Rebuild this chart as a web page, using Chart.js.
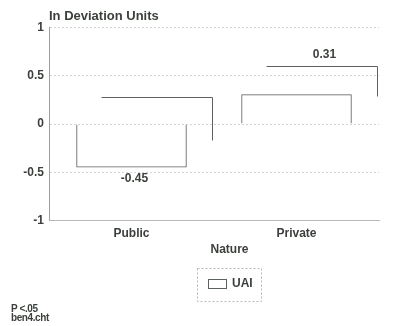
<!DOCTYPE html>
<html>
<head>
<meta charset="utf-8">
<script src="https://cdn.jsdelivr.net/npm/chart.js@4/dist/chart.umd.min.js"></script>
<style>
  html, body { margin: 0; padding: 0; background: #fff; }
  #wrap { position: relative; width: 405px; height: 326px; }
  #foot { position: absolute; left: 11px; top: 304px; font: bold 10px "Liberation Sans", Arial, sans-serif; color: #3b403b; line-height: 9px; letter-spacing: -0.4px; }
</style>
</head>
<body>
<div id="wrap">
  <canvas id="chart" width="405" height="326"></canvas>
  <div id="foot">P &lt;.05<br>ben4.cht</div>
</div>
<script>
const categories = ["Public", "Private"];
const uaiValues = [-0.45, 0.31];
const seriesName = "UAI";
const axisName = "Nature";
const yMin = -1;
const yMax = 1;
const yStep = 0.5;

const ink = "#3b403b";
const lineColor = "#5c625c";
const fontFamily = '"Liberation Sans", Arial, sans-serif';

// offset of the back face, for the old 3D look
const depthX = 25;
const depthY = -28;

const depthPlugin = {
    id: "depth",
    afterDatasetsDraw(chart) {
        const ctx = chart.ctx;
        const meta = chart.getDatasetMeta(0);
        ctx.save();
        ctx.strokeStyle = lineColor;
        ctx.lineWidth = 1;
        ctx.fillStyle = ink;
        ctx.font = "bold 12px " + fontFamily;
        ctx.textAlign = "center";
        ctx.textBaseline = "middle";
        meta.data.forEach((bar, i) => {
            const props = bar.getProps(["x", "y", "base", "width"], true);
            const left = props.x - props.width / 2 + depthX;
            const right = props.x + props.width / 2 + depthX;
            const top = Math.min(props.y, props.base) + depthY;
            const bottom = Math.max(props.y, props.base) + depthY;
            ctx.beginPath();
            ctx.moveTo(Math.round(left) + 0.5, Math.round(top) + 0.5);
            ctx.lineTo(Math.round(right) + 0.5, Math.round(top) + 0.5);
            ctx.lineTo(Math.round(right) + 0.5, Math.round(bottom) + 0.5);
            ctx.stroke();

            const value = uaiValues[i];
            if (value < 0) {
                ctx.fillText(value.toFixed(2), props.x + 3, props.y + 11);
            } else {
                ctx.fillText(value.toFixed(2), props.x + depthX + 3, top - 11);
            }
        });
        ctx.restore();
    },
    afterDraw(chart) {
        const ctx = chart.ctx;
        const area = chart.chartArea;
        ctx.save();
        ctx.fillStyle = ink;
        ctx.font = "bold 12px " + fontFamily;
        ctx.textBaseline = "middle";
        ctx.textAlign = "center";
        // axis name, centred under the floor including its depth
        ctx.fillText(axisName, (area.left + area.right + depthX) / 2 + 3, area.bottom + 29);

        // legend
        const lx = 197, ly = 268;
        ctx.strokeStyle = "#b5bab5";
        ctx.setLineDash([2, 2]);
        ctx.strokeRect(lx + 0.5, ly + 0.5, 64, 33);
        ctx.setLineDash([]);
        ctx.strokeStyle = lineColor;
        ctx.strokeRect(lx + 11.5, ly + 11.5, 18, 9);
        ctx.textAlign = "left";
        ctx.fillText(seriesName, lx + 35, ly + 16);
        ctx.restore();
    }
};

new Chart(document.getElementById("chart"), {
    type: "bar",
    data: {
        labels: categories,
        datasets: [{
            label: seriesName,
            data: uaiValues,
            backgroundColor: "rgba(0,0,0,0)",
            borderColor: lineColor,
            borderWidth: 1,
            borderSkipped: "start",
            barPercentage: 1,
            categoryPercentage: 0.67
        }]
    },
    options: {
        responsive: false,
        animation: false,
        layout: { padding: { left: 0, right: 26, top: 0, bottom: 79 } },
        scales: {
            y: {
                min: yMin,
                max: yMax,
                ticks: {
                    stepSize: yStep,
                    color: ink,
                    padding: 5,
                    callback: v => String(v),
                    font: { family: fontFamily, size: 12, weight: "bold" }
                },
                grid: { color: "#d3d7d3", drawTicks: false, tickBorderDash: [3, 3] },
                border: { color: "#9aa09a", dash: [2, 2] },
                afterFit(scale) { scale.width = 49; }
            },
            x: {
                ticks: {
                    color: ink,
                    padding: 6,
                    font: { family: fontFamily, size: 12, weight: "bold" }
                },
                grid: { display: false, drawTicks: false },
                border: { color: "#b5bab5", dash: [3, 2] }
            }
        },
        plugins: {
            title: {
                display: true,
                text: "In Deviation Units",
                align: "start",
                fullSize: false,
                color: ink,
                padding: { top: 9, bottom: 3 },
                font: { family: fontFamily, size: 13, weight: "bold" }
            },
            legend: { display: false },
            tooltip: { enabled: false }
        }
    },
    plugins: [depthPlugin]
});
</script>
</body>
</html>
